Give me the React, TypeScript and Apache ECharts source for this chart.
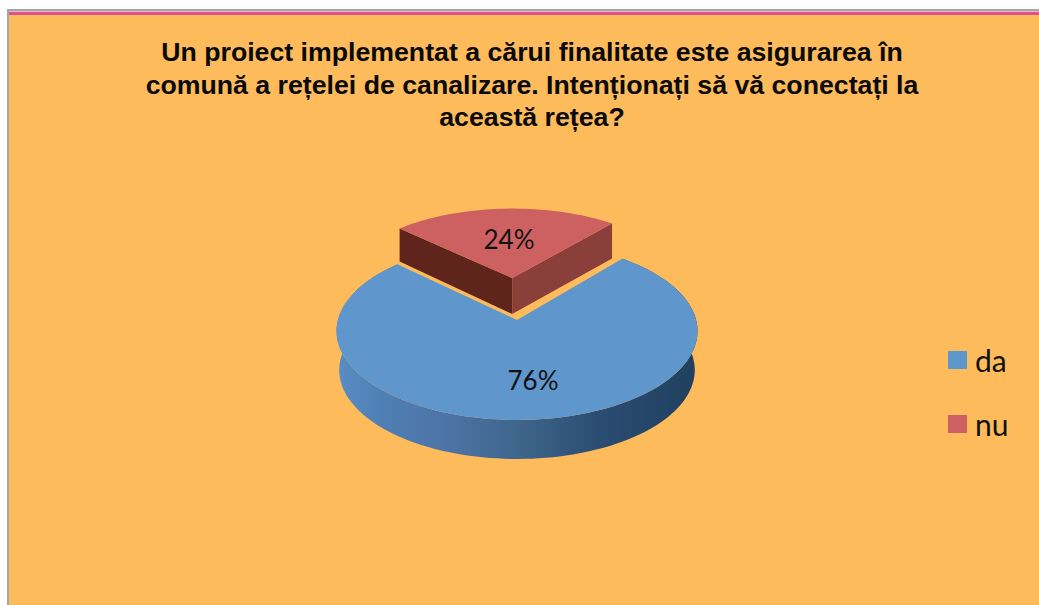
import React, { useEffect, useRef } from "react";
import * as echarts from "echarts";

const categories = ["da", "nu"];
const values = [76, 24];
const titleLines = [
  "Un proiect implementat a cărui finalitate este asigurarea în",
  "comună a rețelei de canalizare. Intenționați să vă conectați la",
  "această rețea?",
];
const topColors = ["#5F96CB", "#CD6161"];

const TOTAL = values.reduce((a, b) => a + b, 0);
const FIRST_SLICE_START = 40; // clockwise from the far side, degrees: where the blue slice starts

// perspective projection of the unit disc on to the page
const AX = 517, AY = 320, RX = 179.1, RY = 87.6, K = 0.1236;
const project = (u: number, v: number): [number, number] => {
  const w = 1 + K * v;
  return [AX + (RX * u) / w, AY - (RY * v) / w];
};
const rim = (deg: number, ox: number, oy: number): [number, number] => {
  const r = (deg * Math.PI) / 180;
  return project(Math.sin(r) + ox, Math.cos(r) + oy);
};
const arc = (a0: number, a1: number, ox: number, oy: number) => {
  const pts: [number, number][] = [];
  const n = Math.max(8, Math.ceil(Math.abs(a1 - a0) / 2));
  for (let i = 0; i <= n; i++) pts.push(rim(a0 + ((a1 - a0) * i) / n, ox, oy));
  return pts;
};

const renderSlice = (index: number) => (_p: any, api: any) => {
  const value = api.value(0);
  const before = values.slice(0, index).reduce((a, b) => a + b, 0);
  const a0 = FIRST_SLICE_START + (before / TOTAL) * 360;
  const a1 = a0 + (value / TOTAL) * 360;
  const label = `${Math.round((value / TOTAL) * 100)}%`;
  const font = '26px Lato, "Open Sans", sans-serif';
  if (index === 0) {
    const top = arc(a0, a1, 0, 0);
    const lo = arc(a0, a1, 0, 0).map(([x, y]) => [AX + (x - AX) * 0.985, y + 39]);
    const wall = [...top, ...lo.reverse()];
    return {
      type: "group",
      children: [
        {
          type: "polygon",
          shape: { points: wall },
          style: {
            fill: new echarts.graphic.LinearGradient(0, 0, 1, 0, [
              { offset: 0, color: "#5A8DC4" },
              { offset: 0.12, color: "#4F80B5" },
              { offset: 0.3, color: "#4D74A6" },
              { offset: 0.5, color: "#3F668C" },
              { offset: 0.72, color: "#2B4D72" },
              { offset: 1, color: "#21405F" },
            ]),
          },
        },
        {
          type: "polygon",
          shape: { points: [project(0, 0), ...top] },
          style: { fill: topColors[0] },
        },
        {
          type: "text",
          style: { text: label, x: 533, y: 380, font, fill: "#111", textAlign: "center", textVerticalAlign: "middle" },
        },
      ],
    };
  }
  const mid = (((a0 + a1) / 2) * Math.PI) / 180;
  const e = 0.51;
  const ox = Math.sin(mid) * e;
  const oy = Math.cos(mid) * e;
  const top = arc(a0, a1, ox, oy);
  const apex = project(ox, oy);
  const d = (p: [number, number], h: number) => [p[0], p[1] + h];
  const first = top[0];
  const last = top[top.length - 1];
  return {
    type: "group",
    children: [
      {
        type: "polygon",
        shape: { points: [first, apex, d(apex, 36), d(first, 33)] },
        style: { fill: "#5F241C" },
      },
      {
        type: "polygon",
        shape: { points: [last, apex, d(apex, 36), d(last, 35)] },
        style: { fill: "#8A3F3A" },
      },
      {
        type: "polygon",
        shape: { points: [apex, ...top] },
        style: { fill: topColors[1] },
      },
      {
        type: "text",
        style: { text: label, x: 509, y: 239, font, fill: "#111", textAlign: "center", textVerticalAlign: "middle" },
      },
    ],
  };
};

export default function App() {
  const ref = useRef<HTMLDivElement>(null);
  useEffect(() => {
    document.body.style.margin = "0";
    const chart = echarts.init(ref.current!, null, { renderer: "svg" });
    chart.setOption({
      animation: false,
      backgroundColor: "#FFFFFF",
      title: {
        text: titleLines.join("\n"),
        left: 527,
        top: 31,
        textAlign: "center",
        textStyle: {
          fontFamily: '"Liberation Sans", Arial, sans-serif',
          fontWeight: "bold",
          fontSize: 26.7,
          lineHeight: 32.5,
          color: "#0A0A0A",
        },
      },
      legend: {
        orient: "vertical",
        left: 943,
        top: 340,
        itemWidth: 19,
        itemHeight: 18,
        itemGap: 34,
        icon: "rect",
        data: categories,
        selectedMode: false,
        textStyle: { fontFamily: 'Lato, "Open Sans", sans-serif', fontSize: 30, color: "#111", padding: [0, 0, 0, 3] },
      },
      graphic: [
        { type: "rect", z: 0, shape: { x: 7, y: 9, width: 1032, height: 596 }, style: { fill: "#A3A6A6" } },
        { type: "rect", z: 0, shape: { x: 9, y: 11, width: 1030, height: 4 }, style: { fill: "#F3B6C4" } },
        { type: "rect", z: 0, shape: { x: 9, y: 12, width: 1030, height: 3 }, style: { fill: "#E0508F" } },
        { type: "rect", z: 0, shape: { x: 9, y: 15, width: 1030, height: 590 }, style: { fill: "#FDBB5C" } },
      ],
      series: categories.map((name, i) => ({
        name,
        type: "custom",
        coordinateSystem: "none",
        itemStyle: { color: topColors[i] },
        renderItem: renderSlice(i),
        data: [[values[i]]],
      })),
    });
    return () => chart.dispose();
  }, []);
  return <div ref={ref} style={{ width: 1039, height: 605 }} />;
}
